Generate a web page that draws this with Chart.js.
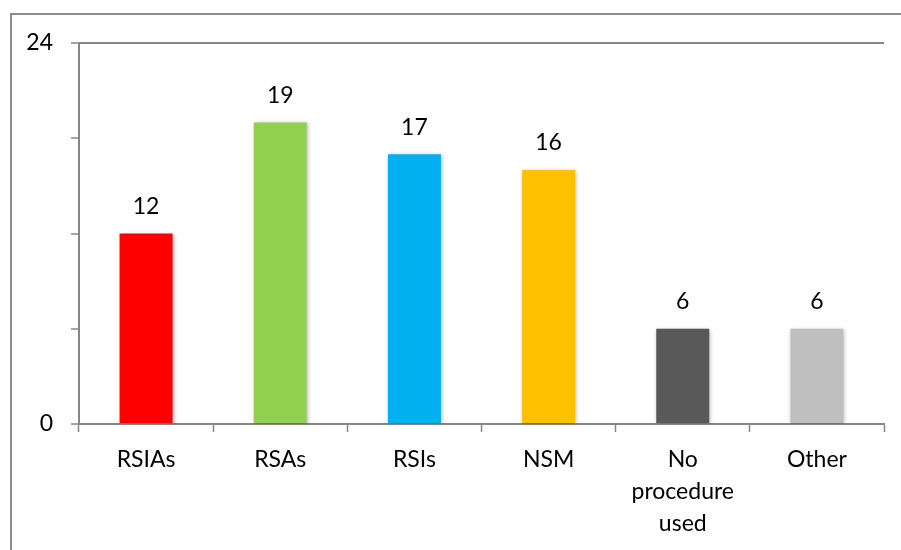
<!DOCTYPE html>
<html>
<head>
<meta charset="utf-8">
<script src="https://cdn.jsdelivr.net/npm/chart.js@4"></script>
<style>
  html, body { margin: 0; padding: 0; background: #fff; overflow: hidden; }
  #frame { position: absolute; left: 10px; top: 13px; width: 1000px; height: 1000px;
           border-left: 2px solid #8c8c8c; border-top: 2px solid #8c8c8c; }
  #wrap { position: absolute; left: 0; top: 0; width: 901px; height: 550px; }
</style>
</head>
<body>
<div id="frame"></div>
<div id="wrap"><canvas id="myChart"></canvas></div>
<script>
const categories = ['RSIAs', 'RSAs', 'RSIs', 'NSM', ['No', 'procedure', 'used'], 'Other'];
const counts = [12, 19, 17, 16, 6, 6];
const barColors = ['#ff0000', '#92d050', '#00b0f0', '#ffc000', '#595959', '#bfbfbf'];
const yTicksShown = [0, 24];

const axisGray = '#868686';
const fontFamily = 'Lato, "Open Sans", sans-serif';

// soft shadow round the bars, like the Excel original
const barShadow = {
    id: 'barShadow',
    beforeDatasetDraw(chart) {
        const ctx = chart.ctx;
        ctx.save();
        ctx.shadowColor = 'rgba(0,0,0,0.28)';
        ctx.shadowBlur = 4;
        ctx.shadowOffsetX = 1;
        ctx.shadowOffsetY = 1;
    },
    afterDatasetDraw(chart) {
        chart.ctx.restore();
    }
};

// numbers above each bar
const valueLabels = {
    id: 'valueLabels',
    afterDatasetsDraw(chart) {
        const ctx = chart.ctx;
        const meta = chart.getDatasetMeta(0);
        ctx.save();
        ctx.font = '23px ' + fontFamily;
        ctx.fillStyle = '#000';
        ctx.textAlign = 'center';
        ctx.textBaseline = 'middle';
        meta.data.forEach((bar, i) => {
            ctx.fillText(String(counts[i]), bar.x, bar.y - 27);
        });
        ctx.restore();
    }
};

const ctx = document.getElementById('myChart').getContext('2d');
const myChart = new Chart(ctx, {
    type: 'bar',
    data: {
        labels: categories,
        datasets: [{
            data: counts,
            backgroundColor: barColors,
            borderWidth: 0,
            barPercentage: 0.79,
            categoryPercentage: 0.5
        }]
    },
    options: {
        responsive: true,
        maintainAspectRatio: false,
        animation: false,
        events: [],
        layout: {
            padding: { top: 43, right: 17, bottom: 0, left: 0 }
        },
        plugins: {
            legend: { display: false },
            tooltip: { enabled: false }
        },
        scales: {
            x: {
                grid: {
                    offset: true,
                    drawOnChartArea: false,
                    tickLength: 8,
                    tickColor: axisGray,
                    tickWidth: 1.5
                },
                border: { color: axisGray, width: 2 },
                ticks: {
                    color: '#000',
                    padding: 12,
                    maxRotation: 0,
                    font: { family: fontFamily, size: 23, lineHeight: 1.38 }
                },
                afterFit(scale) { scale.height = 126; }
            },
            y: {
                min: 0,
                max: 24,
                grid: {
                    color: c => c.tick.value === 24 ? axisGray : 'rgba(0,0,0,0)',
                    lineWidth: 2,
                    tickLength: 8,
                    tickColor: axisGray,
                    tickWidth: 1.5
                },
                border: { color: axisGray, width: 2 },
                ticks: {
                    stepSize: 6,
                    color: '#000',
                    padding: 18,
                    font: { family: fontFamily, size: 23 },
                    callback: v => yTicksShown.includes(v) ? String(v) : ''
                },
                afterFit(scale) { scale.width = 79; }
            }
        }
    },
    plugins: [barShadow, valueLabels]
});
</script>
</body>
</html>
